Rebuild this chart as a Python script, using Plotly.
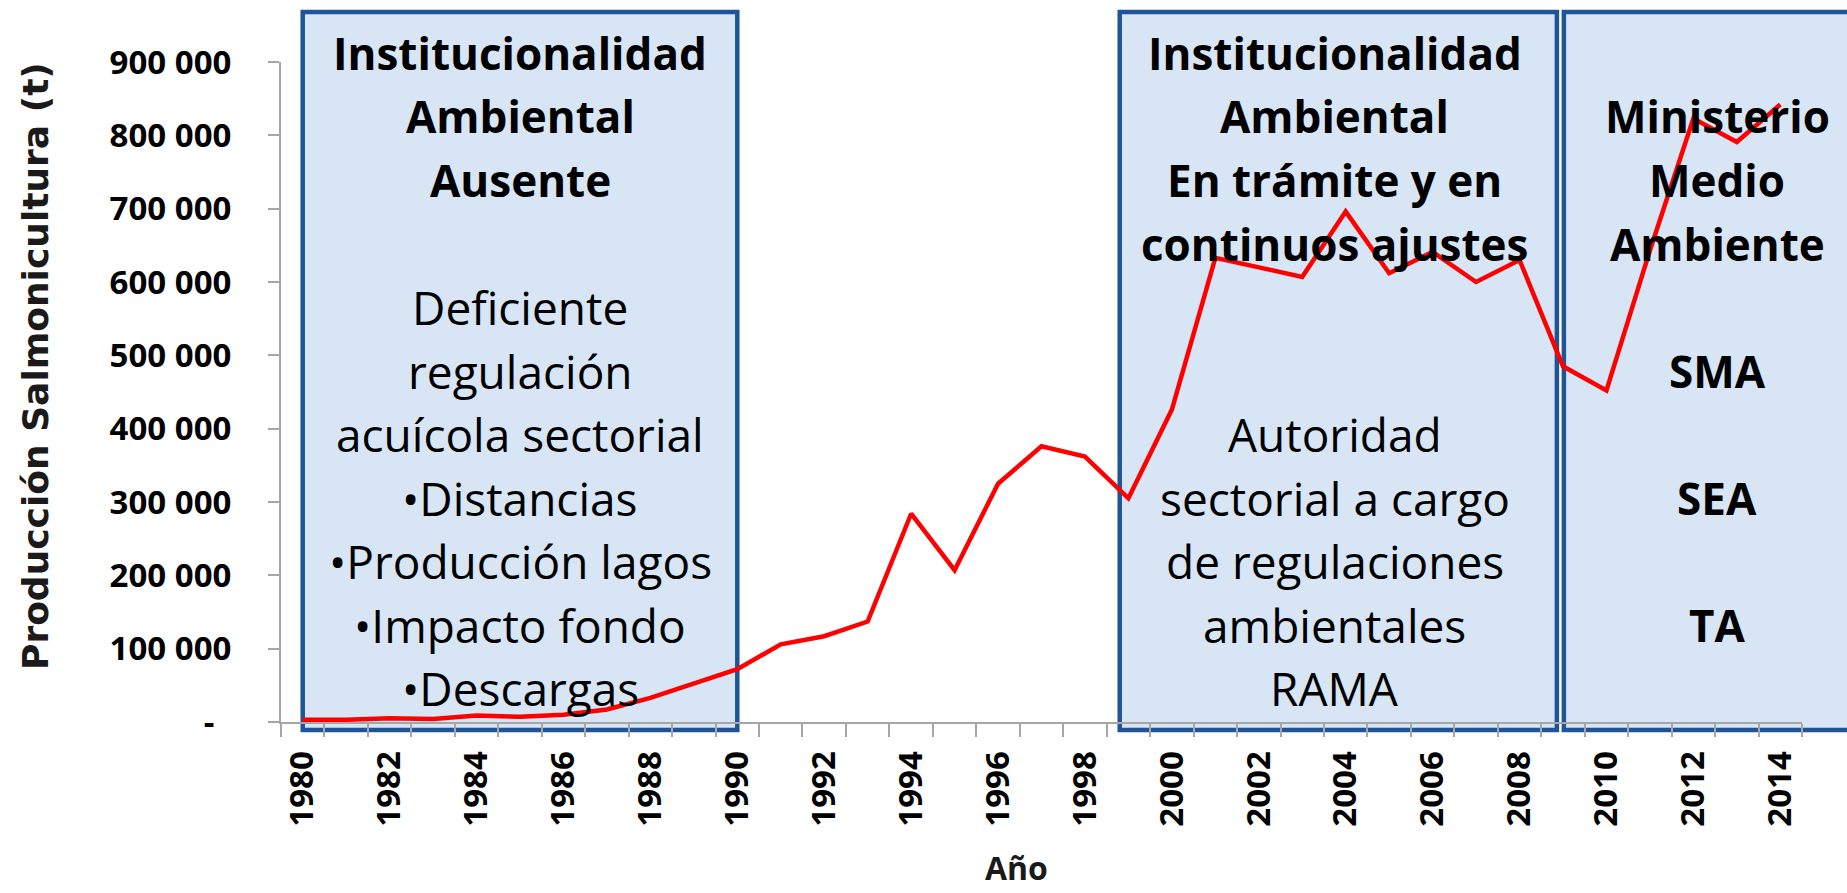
import plotly.graph_objects as go

# ---------------- data ----------------
years = list(range(1980, 2015))
production = [3000, 3000, 5000, 4000, 9000, 7000, 10000, 17000, 33000, 52000,
              72000, 106000, 117000, 137000, 284000, 207000, 325000, 376000, 362000, 305000,
              426000, 633000, 620000, 607000, 696000, 612000, 641000, 600000, 630000, 485000,
              452000, 643000, 823000, 791000, 842000]

y_tickvals = [0, 100000, 200000, 300000, 400000, 500000, 600000, 700000, 800000, 900000]
y_ticktext = ["-\u00a0\u00a0", "100 000", "200 000", "300 000", "400 000", "500 000",
              "600 000", "700 000", "800 000", "900 000"]
x_tickvals = list(range(1980, 2015, 2))

# periods (start year, end year) of the three institutional boxes
period_start = [1980, 1998.8, 2009.02]
period_end = [1990, 2008.86, 2016.5]

box1_lines = ["<b>Institucionalidad</b>", "<b>Ambiental</b>", "<b>Ausente</b>", "",
              "Deficiente", "regulación", "acuícola sectorial", "•Distancias",
              "•Producción lagos", "•Impacto fondo", "•Descargas"]
box2_lines = ["<b>Institucionalidad</b>", "<b>Ambiental</b>", "<b>En trámite y en</b>",
              "<b>continuos ajustes</b>", "", "", "Autoridad", "sectorial a cargo",
              "de regulaciones", "ambientales", "RAMA"]
box3_lines = ["", "<b>Ministerio</b>", "<b>Medio</b>", "<b>Ambiente</b>", "", "<b>SMA</b>",
              "", "<b>SEA</b>", "", "<b>TA</b>", ""]
box_text_center = [1985.0, 2003.75, 2012.55]

# ---------------- layout geometry ----------------
W, H = 1847, 893
L, R, T, B = 281, 45, 62, 171
PW, PH = W - L - R, H - T - B
XMIN, XMAX = 1979.5, 2014.5


def px_to_paper_y(py):
    return (H - B - py) / PH


def year_to_paper_x(yr):
    return (yr - XMIN) / (XMAX - XMIN)


fig = go.Figure()
fig.add_trace(go.Scatter(x=years, y=production, mode="lines",
                         line=dict(color="#FF0000", width=4.5), hoverinfo="x+y",
                         showlegend=False))

shapes = []
for s, e in zip(period_start, period_end):
    shapes.append(dict(type="rect", xref="paper", yref="paper",
                       x0=year_to_paper_x(s), x1=year_to_paper_x(e),
                       y0=px_to_paper_y(730), y1=px_to_paper_y(12),
                       fillcolor="#D7E5F5", line=dict(color="#1F5597", width=4.5),
                       layer="below"))

annotations = []
row_y0, row_step = 53, 63.5
for lines, cx in zip([box1_lines, box2_lines, box3_lines], box_text_center):
    for i, txt in enumerate(lines):
        if not txt:
            continue
        bold = txt.startswith("<b>")
        annotations.append(dict(
            text=txt, xref="paper", yref="paper",
            x=year_to_paper_x(cx), y=px_to_paper_y(row_y0 + row_step * i),
            xanchor="center", yanchor="middle", showarrow=False,
            font=dict(family="Open Sans", size=44 if bold else 46, color="#000000")))

annotations.append(dict(text="<b>Producción Salmonicultura (t)</b>", xref="paper", yref="paper",
                        x=(35 - L) / PW, y=px_to_paper_y(366), textangle=-90,
                        xanchor="center", yanchor="middle", showarrow=False,
                        font=dict(family="DejaVu Sans", size=36, color="#1a1a1a")))
annotations.append(dict(text="<b>Año</b>", xref="paper", yref="paper",
                        x=(1016 - L) / PW, y=px_to_paper_y(867),
                        xanchor="center", yanchor="middle", showarrow=False,
                        font=dict(family="Open Sans", size=32, color="#1a1a1a")))

fig.update_layout(
    width=W, height=H, autosize=False,
    margin=dict(l=L, r=R, t=T, b=B, pad=0),
    paper_bgcolor="white", plot_bgcolor="rgba(0,0,0,0)",
    shapes=shapes, annotations=annotations, showlegend=False,
    xaxis=dict(range=[XMIN, XMAX], tickmode="array", tickvals=x_tickvals,
               ticktext=[str(v) for v in x_tickvals], tickangle=-90,
               ticks="", ticklabelstandoff=14,
               tickfont=dict(family="Open Sans", size=33, color="#000000", weight="bold"),
               showline=True, linecolor="#A6A6A6", linewidth=2,
               showgrid=False, zeroline=False,
               minor=dict(tickmode="array", tickvals=[XMIN + i for i in range(36)],
                          ticks="outside", ticklen=13, tickcolor="#A6A6A6", tickwidth=2,
                          showgrid=False)),
    yaxis=dict(range=[0, 900000], tickmode="array", tickvals=y_tickvals, ticktext=y_ticktext,
               ticks="outside", ticklen=11, tickcolor="#A6A6A6", tickwidth=2,
               ticklabelstandoff=30,
               tickfont=dict(family="Open Sans", size=33, color="#000000", weight="bold"),
               showline=True, linecolor="#A6A6A6", linewidth=2,
               showgrid=False, zeroline=False),
)

fig.write_html("out.html", config={"displayModeBar": False},
               post_script="document.body.style.margin='0';document.body.style.overflow='hidden';")
